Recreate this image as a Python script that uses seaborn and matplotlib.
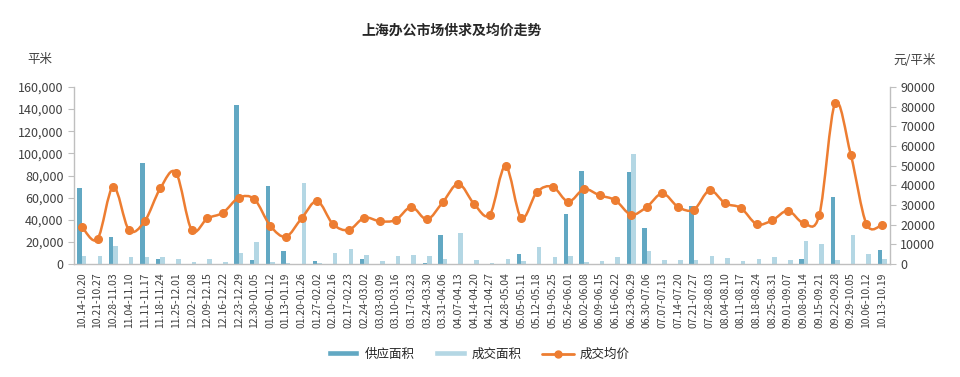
import numpy as np
import pandas as pd
import matplotlib
matplotlib.use('Agg')
import matplotlib.pyplot as plt
import seaborn as sns
from matplotlib.path import Path
from matplotlib.patches import PathPatch
from matplotlib.lines import Line2D
from matplotlib.patches import Patch
from matplotlib.ticker import FuncFormatter, MultipleLocator

weeks = ['10.14-10.20', '10.21-10.27', '10.28-11.03', '11.04-11.10', '11.11-11.17', '11.18-11.24',
         '11.25-12.01', '12.02-12.08', '12.09-12.15', '12.16-12.22', '12.23-12.29', '12.30-01.05',
         '01.06-01.12', '01.13-01.19', '01.20-01.26', '01.27-02.02', '02.10-02.16', '02.17-02.23',
         '02.24-03.02', '03.03-03.09', '03.10-03.16', '03.17-03.23', '03.24-03.30', '03.31-04.06',
         '04.07-04.13', '04.14-04.20', '04.21-04.27', '04.28-05.04', '05.05-05.11', '05.12-05.18',
         '05.19-05.25', '05.26-06.01', '06.02-06.08', '06.09-06.15', '06.16-06.22', '06.23-06.29',
         '06.30-07.06', '07.07-07.13', '07.14-07.20', '07.21-07.27', '07.28-08.03', '08.04-08.10',
         '08.11-08.17', '08.18-08.24', '08.25-08.31', '09.01-09.07', '09.08-09.14', '09.15-09.21',
         '09.22-09.28', '09.29-10.05', '10.06-10.12', '10.13-10.19']

# 供应面积 (平米)
supply = [68400, 0, 24700, 0, 91300, 4200, 0, 0, 0, 0, 143400, 3600, 70200, 12000, 0, 3000,
          0, 0, 4500, 0, 0, 0, 1000, 25900, 0, 0, 0, 0, 9000, 0, 0, 45200, 84400, 0, 0, 83500,
          32300, 0, 0, 52400, 0, 0, 0, 0, 0, 0, 4500, 0, 60300, 0, 0, 12900]
# 成交面积 (平米)
deal = [7200, 7000, 16300, 6000, 6000, 6000, 4500, 1500, 4500, 2000, 9700, 19600, 1500, 1000,
        72900, 1000, 10200, 13300, 8100, 2700, 7200, 8100, 7200, 4500, 28000, 3600, 1000, 4500,
        2500, 15600, 6000, 7200, 1500, 2700, 6000, 99400, 12000, 3600, 3600, 3600, 7200, 5400,
        2500, 4500, 6000, 3600, 21100, 18100, 3600, 26500, 9000, 4500]
# 成交均价 (元/平米)
price = [19000, 12700, 39300, 17300, 21700, 38500, 46400, 17300, 23200, 26100, 33700, 32900,
         19500, 13900, 23200, 32000, 20300, 17300, 23500, 21700, 22400, 29000, 22700, 31400,
         40800, 30500, 25100, 49800, 23400, 36600, 39300, 31700, 38000, 34900, 32400, 25100,
         29000, 35900, 29000, 27600, 37400, 30800, 28500, 20300, 22200, 27100, 20800, 25100,
         81700, 55600, 20300, 20000]

c_supply = '#62a8c3'
c_deal = '#b4d7e4'
c_line = '#ed7d31'
c_axis = '#bfbfbf'
c_text = '#404040'

sns.set_style('white')
plt.rcParams['font.family'] = ['Noto Sans CJK SC', 'DejaVu Sans']

df = pd.DataFrame({'week': weeks * 2,
                   'series': ['供应面积'] * len(weeks) + ['成交面积'] * len(weeks),
                   'value': supply + deal})

fig = plt.figure(figsize=(9.6, 3.77), dpi=100)
ax = fig.add_axes([74 / 960, 1 - 264 / 377, 816 / 960, 177 / 377])
sns.barplot(data=df, x='week', y='value', hue='series', palette=[c_supply, c_deal],
            width=0.58, gap=0, saturation=1, linewidth=0, legend=False, ax=ax)
ax.set_xlim(-0.5, len(weeks) - 0.5)
ax.set_ylim(0, 160000)
ax.yaxis.set_major_locator(MultipleLocator(20000))
ax.yaxis.set_major_formatter(FuncFormatter(lambda v, p: f'{int(v):,}'))
ax.set_xlabel('')
ax.set_ylabel('')

ax2 = ax.twinx()
ax2.set_ylim(0, 90000)
ax2.yaxis.set_major_locator(MultipleLocator(10000))
ax2.yaxis.set_major_formatter(FuncFormatter(lambda v, p: f'{int(v)}'))

# smoothed line (Catmull-Rom -> bezier), like excel's smooth line
x = np.arange(len(price), dtype=float)
y = np.array(price, dtype=float)
pts = np.column_stack([x, y])
verts = [pts[0]]
codes = [Path.MOVETO]
for i in range(len(pts) - 1):
    p0 = pts[i - 1] if i > 0 else pts[i]
    p1 = pts[i]
    p2 = pts[i + 1]
    p3 = pts[i + 2] if i + 2 < len(pts) else pts[i + 1]
    verts += [p1 + (p2 - p0) / 6, p2 - (p3 - p1) / 6, p2]
    codes += [Path.CURVE4] * 3
ax2.add_patch(PathPatch(Path(verts, codes), fill=False, edgecolor=c_line, lw=1.8, zorder=3))
ax2.plot(x, y, 'o', color=c_line, ms=5.5, zorder=4)

for a in (ax, ax2):
    a.spines['top'].set_visible(False)
    for s in ('left', 'right', 'bottom'):
        a.spines[s].set_color(c_axis)
        a.spines[s].set_linewidth(1)
ax.spines['right'].set_visible(False)
ax2.spines['left'].set_visible(False)
ax2.spines['bottom'].set_visible(False)

ax.set_xticks(range(len(weeks)))
ax.set_xticklabels(weeks, rotation=90, fontsize=7.5, color=c_text)
ax.set_xticks(np.arange(-0.5, len(weeks), 1), minor=True)
ax.tick_params(axis='x', which='major', length=0, pad=6)
ax.tick_params(axis='x', which='minor', length=4, color=c_axis, width=1)
ax.tick_params(axis='y', length=4, color=c_axis, labelsize=9, labelcolor=c_text, left=True)
ax2.tick_params(axis='y', length=4, color=c_axis, labelsize=9, labelcolor=c_text, right=True)

fig.text(0.47, 0.92, '上海办公市场供求及均价走势', ha='center', va='center',
         fontsize=10, fontweight='bold', color='#262626')
fig.text(40 / 960, 1 - 60 / 377, '平米', ha='center', va='center', fontsize=9, color=c_text)
fig.text(915 / 960, 1 - 60 / 377, '元/平米', ha='center', va='center', fontsize=9, color=c_text)

handles = [Patch(facecolor=c_supply, label='供应面积'),
           Patch(facecolor=c_deal, label='成交面积'),
           Line2D([0], [0], color=c_line, lw=2, marker='o', ms=5, label='成交均价')]
fig.legend(handles=handles, loc='center', bbox_to_anchor=(0.498, 1 - 354 / 377), ncol=3,
           frameon=False, fontsize=9, handlelength=2.6, handleheight=0.45, handletextpad=0.4,
           columnspacing=1.6, labelcolor='#262626')

fig.savefig('out.png', dpi=100)
